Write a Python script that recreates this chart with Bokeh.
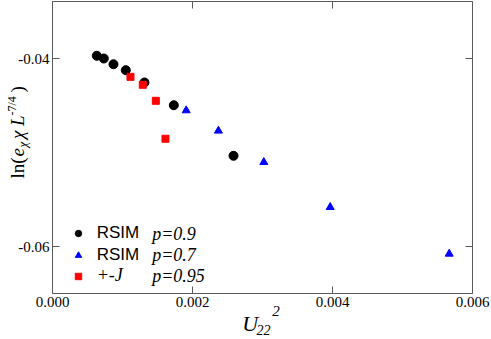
import math
from bokeh.plotting import figure
from bokeh.models import (Range1d, LinearAxis, FixedTicker, Label, Legend,
                          LegendItem, NumeralTickFormatter, CustomLabelingPolicy)
from bokeh.embed import file_html
from bokeh.resources import INLINE

# ---- data ----
rsim09_x = [0.000633, 0.000733, 0.000871, 0.001047, 0.001314, 0.001733, 0.002586]
rsim09_y = [-0.03971, -0.04000, -0.04061, -0.04124, -0.04255, -0.04497, -0.05035]

rsim07_x = [0.00191, 0.00237, 0.003019, 0.003967, 0.005667]
rsim07_y = [-0.04553, -0.04769, -0.05103, -0.05582, -0.06078]

pmj_x = [0.001114, 0.00129, 0.001476, 0.001614]
pmj_y = [-0.04195, -0.0428, -0.0445, -0.04854]

x_ticks = [0.0, 0.002, 0.004, 0.006]
y_ticks = [-0.06, -0.04]

legend_names = ["RSIM", "RSIM", "+-J"]
legend_params = ["p=0.9", "p=0.7", "p=0.95"]

# ---- layout ----
W, H = 491, 339
AX = "#5a5a5a"
BX0, BX1 = 0.0, 0.006            # axis box, data units
BY0, BY1 = -0.065, -0.033936
FL, FR, FT, FB = 52, 472, 1, 293   # axis box edges in page pixels
sx = (FR - FL) / (BX1 - BX0)
sy = (FB - FT) / (BY1 - BY0)
x_range = Range1d(BX0 - FL / sx, BX1 + (W - FR) / sx)
y_range = Range1d(BY0 - (H - FB) / sy, BY1 + FT / sy)
SHIFT = 4  # baseline correction, pixels

p = figure(width=W, height=H, x_range=x_range, y_range=y_range,
           output_backend="svg", toolbar_location=None,
           min_border=0)
p.xgrid.visible = False
p.ygrid.visible = False
p.outline_line_color = None
p.background_fill_color = "white"
p.border_fill_color = "white"

bottom = p.below[0]
left = p.left[0]
top = LinearAxis()
right = LinearAxis()
p.add_layout(top, "above")
p.add_layout(right, "right")

bottom.fixed_location = BY0
top.fixed_location = BY1
left.fixed_location = BX0
right.fixed_location = BX1

for ax in [bottom, top]:
    ax.ticker = FixedTicker(ticks=x_ticks)
    ax.formatter = NumeralTickFormatter(format="0.000")
    ax.bounds = (BX0, BX1)
for ax in [left, right]:
    ax.ticker = FixedTicker(ticks=y_ticks)
    ax.formatter = NumeralTickFormatter(format="0.00")
    ax.bounds = (BY0, BY1)

for ax in [bottom, left, top, right]:
    ax.axis_line_color = AX
    ax.major_tick_line_color = AX
    ax.major_tick_in = 7
    ax.major_tick_out = 0
    ax.minor_tick_line_color = None
    ax.major_label_text_font = "Liberation Serif"
    ax.major_label_text_font_size = "15px"
    ax.major_label_text_color = "black"
    ax.major_label_standoff = 3

hide = CustomLabelingPolicy(code="""
for (const i of [...indices.ones()]) indices.unset(i)
return indices
""")
for ax in [top, right]:
    ax.major_label_policy = hide

r09 = p.scatter(rsim09_x, rsim09_y, marker="circle", size=9,
                fill_color="black", line_color="black")
r07 = p.scatter(rsim07_x, rsim07_y, marker="triangle", size=8,
                fill_color="blue", line_color="blue")
rpj = p.scatter(pmj_x, pmj_y, marker="square", size=7,
                fill_color="red", line_color="red")


def style_legend(lg):
    lg.background_fill_alpha = 0
    lg.border_line_color = None
    lg.padding = 0
    lg.margin = 0
    lg.glyph_width = 16
    lg.glyph_height = 16
    lg.label_standoff = 11
    lg.label_height = 18
    lg.spacing = 2
    lg.label_text_color = "black"


# legend positions: canvas pixels from bottom-left
leg1 = Legend(items=[LegendItem(label=legend_names[0], renderers=[r09]),
                     LegendItem(label=legend_names[1], renderers=[r07])],
              location=(69.7, 74.3))
style_legend(leg1)
leg1.label_text_font = "Liberation Sans"
leg1.label_text_font_size = "17px"
p.add_layout(leg1, "center")

leg2 = Legend(items=[LegendItem(label=legend_names[2], renderers=[rpj])],
              location=(69.7, 52.7))
style_legend(leg2)
leg2.label_text_font = "Liberation Serif"
leg2.label_text_font_style = "italic"
leg2.label_text_font_size = "18px"
p.add_layout(leg2, "center")


def lab(px, py, text, size, italic=True, angle=0.0, font="Liberation Serif"):
    if angle:
        px = px - SHIFT
    else:
        py = py - SHIFT
    return Label(x=px, y=H - py, x_units="screen", y_units="screen", text=text,
                 text_font=font, text_color="black",
                 text_font_style="italic" if italic else "normal",
                 text_font_size=size, text_baseline="alphabetic",
                 text_align="left", angle=angle, angle_units="rad")


for txt, py in zip(legend_params, [237.3, 258.3, 279.3]):
    p.add_layout(lab(151.7, py, txt, "18px"))

# x axis label  U_22^2  (page pixel anchors)
p.add_layout(lab(241.7, 327, "U", "22px"))
p.add_layout(lab(256, 333.5, "22", "14px"))
p.add_layout(lab(271.7, 314, "2", "15px"))

# y axis label  ln(e_chi chi L^{-7/4})  rotated
A = math.pi / 2
p.add_layout(lab(21, 178, "ln(", "19px", italic=False, angle=A))
p.add_layout(lab(21, 156, "e", "19px", angle=A))
p.add_layout(lab(26, 147, "\u03c7", "13px", angle=A))
p.add_layout(lab(21, 138.5, "\u03c7", "19px", angle=A))
p.add_layout(lab(21, 125.5, "L", "19px", angle=A))
p.add_layout(lab(15, 115, "-7/4", "12px", italic=False, angle=A))
p.add_layout(lab(21, 92, ")", "19px", italic=False, angle=A))

open("out.html", "w").write(file_html(p, INLINE))
